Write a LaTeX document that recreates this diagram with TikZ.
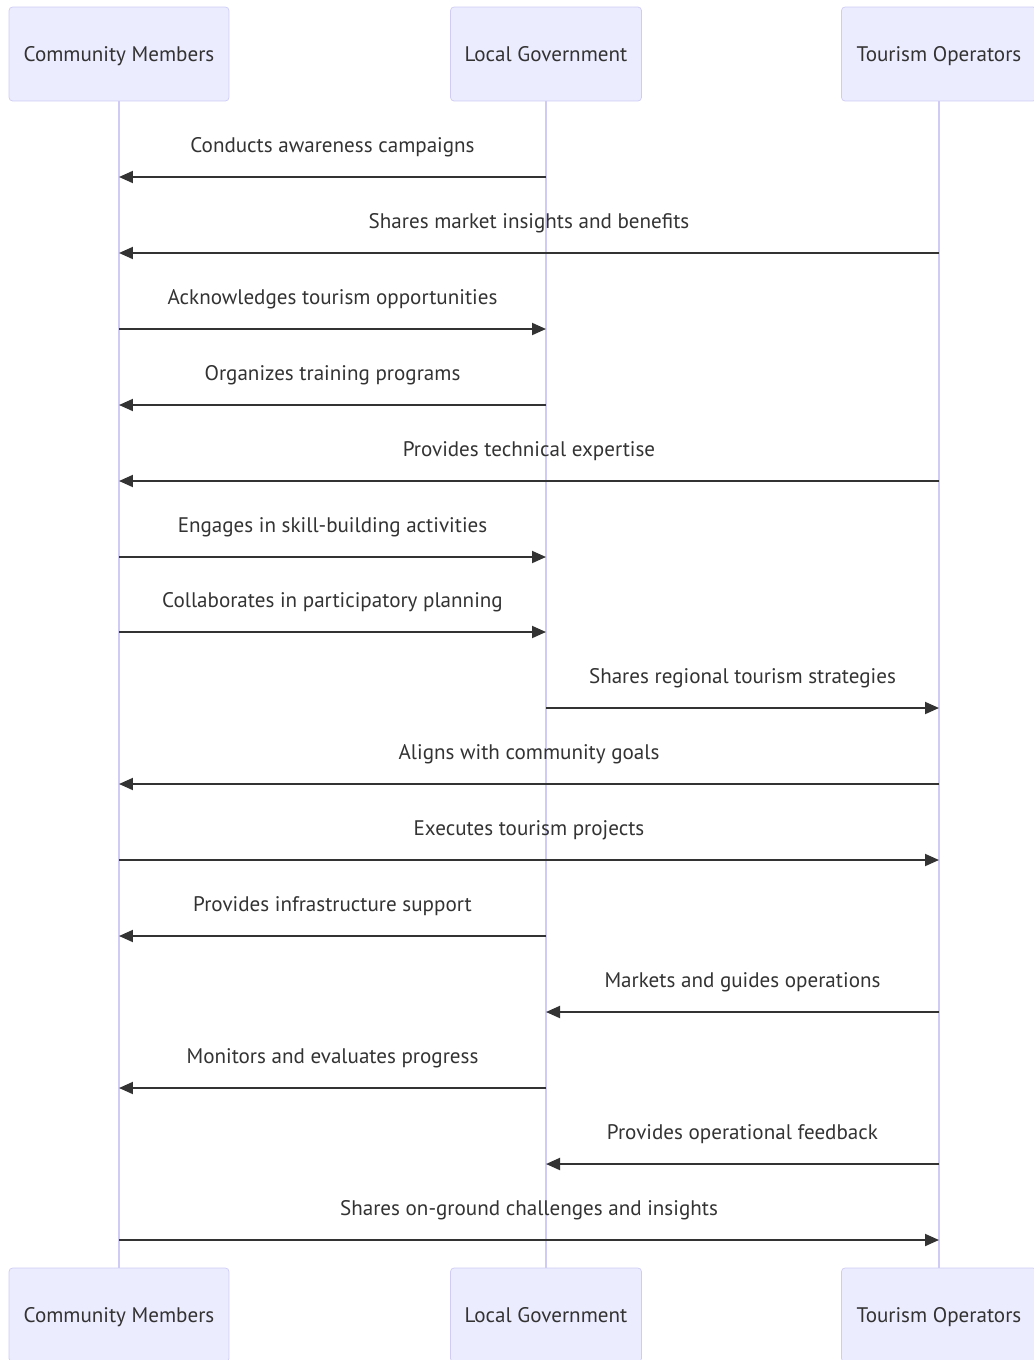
\documentclass[tikz,border=0pt]{standalone}
\usepackage{fontspec}
\setmainfont{PT Sans}
\usepackage{tikz}
\usetikzlibrary{arrows.meta}

\definecolor{actorFill}{HTML}{ECECFF}
\definecolor{actorLine}{HTML}{CFCBF5}
\definecolor{msgGrey}{HTML}{333333}

\begin{document}
\begin{tikzpicture}[x=0.02cm, y=-0.02cm]
		\tikzstyle{actor}=[rectangle, draw=actorLine, fill=actorFill, rounded corners=2pt,
			minimum height=1.88cm, text=msgGrey, text height=2.2ex, text depth=0.4ex,
			font=\fontsize{12}{14}\selectfont]
		\tikzstyle{lifeline}=[draw=actorLine, line width=0.9pt]
		\tikzstyle{msg}=[->, line width=1.1pt, draw=msgGrey,
			>={Triangle[length=0.28cm, width=0.24cm]}]
		\tikzstyle{msgText}=[midway, yshift=0.6cm, text=msgGrey, text height=1.6ex,
			text depth=0.4ex, font=\fontsize{12}{14}\selectfont]

		\clip (0,0) rectangle (1034,1360);

		\node[actor, minimum width=4.4cm] (commTop) at (119,54) {Community Members};
		\node[actor, minimum width=3.82cm] (govTop) at (546,54) {Local Government};
		\node[actor, minimum width=3.9cm] (tourTop) at (939,54) {Tourism Operators};

		\node[actor, minimum width=4.4cm] (commBot) at (119,1315) {Community Members};
		\node[actor, minimum width=3.82cm] (govBot) at (546,1315) {Local Government};
		\node[actor, minimum width=3.9cm] (tourBot) at (939,1315) {Tourism Operators};

		\draw[lifeline] (commTop.south) -- (commBot.north);
		\draw[lifeline] (govTop.south) -- (govBot.north);
		\draw[lifeline] (tourTop.south) -- (tourBot.north);

		\draw[msg] (govTop |- 0,177) -- node[msgText] {Conducts awareness campaigns} (commTop |- 0,177);
		\draw[msg] (tourTop |- 0,253) -- node[msgText] {Shares market insights and benefits} (commTop |- 0,253);
		\draw[msg] (commTop |- 0,329) -- node[msgText] {Acknowledges tourism opportunities} (govTop |- 0,329);
		\draw[msg] (govTop |- 0,405) -- node[msgText] {Organizes training programs} (commTop |- 0,405);
		\draw[msg] (tourTop |- 0,481) -- node[msgText] {Provides technical expertise} (commTop |- 0,481);
		\draw[msg] (commTop |- 0,557) -- node[msgText] {Engages in skill-building activities} (govTop |- 0,557);
		\draw[msg] (commTop |- 0,632) -- node[msgText] {Collaborates in participatory planning} (govTop |- 0,632);
		\draw[msg] (govTop |- 0,708) -- node[msgText] {Shares regional tourism strategies} (tourTop |- 0,708);
		\draw[msg] (tourTop |- 0,784) -- node[msgText] {Aligns with community goals} (commTop |- 0,784);
		\draw[msg] (commTop |- 0,860) -- node[msgText] {Executes tourism projects} (tourTop |- 0,860);
		\draw[msg] (govTop |- 0,936) -- node[msgText] {Provides infrastructure support} (commTop |- 0,936);
		\draw[msg] (tourTop |- 0,1012) -- node[msgText] {Markets and guides operations} (govTop |- 0,1012);
		\draw[msg] (govTop |- 0,1088) -- node[msgText] {Monitors and evaluates progress} (commTop |- 0,1088);
		\draw[msg] (tourTop |- 0,1164) -- node[msgText] {Provides operational feedback} (govTop |- 0,1164);
		\draw[msg] (commTop |- 0,1240) -- node[msgText] {Shares on-ground challenges and insights} (tourTop |- 0,1240);

	\end{tikzpicture}
\end{document}
